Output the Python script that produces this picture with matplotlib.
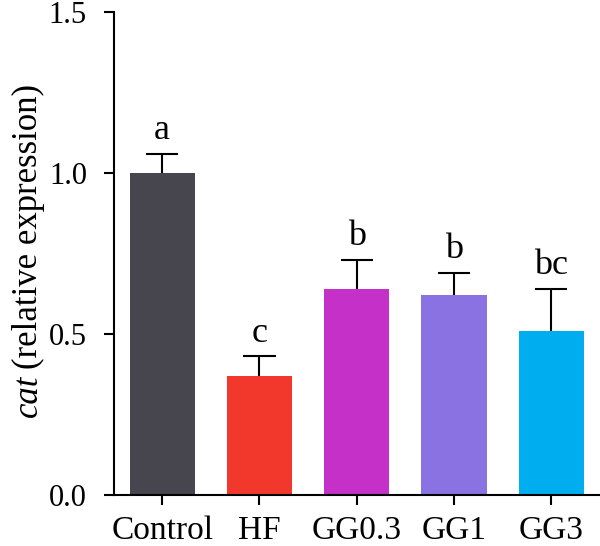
import matplotlib
matplotlib.use("Agg")
import matplotlib.pyplot as plt

groups  = ["Control", "HF", "GG0.3", "GG1", "GG3"]
values  = [1.00, 0.37, 0.64, 0.62, 0.51]
errors  = [0.06, 0.06, 0.09, 0.07, 0.13]
letters = ["a", "c", "b", "b", "bc"]
colors  = ["#47464f", "#f2382c", "#c430c8", "#8a72e2", "#00aeef"]

plt.rcParams["font.family"] = ["Liberation Serif", "DejaVu Serif"]

fig = plt.figure(figsize=(6.0, 5.46), dpi=100)
ax = fig.add_axes([0.19, 0.0934, 0.81, 0.885])

x = list(range(len(groups)))
ax.bar(x, values, width=0.67, color=colors, zorder=2)

# upper-only error bars with caps
tops = [v + e for v, e in zip(values, errors)]
ax.vlines(x, values, tops, color="black", linewidth=1.5, zorder=3)
ax.hlines(tops, [xi - 0.165 for xi in x], [xi + 0.165 for xi in x],
          color="black", linewidth=1.5, zorder=3)

for xi, tp, lab in zip(x, tops, letters):
    ax.annotate(lab, (xi, tp), xytext=(0, 5), textcoords="offset points",
                ha="center", va="bottom", fontsize=26)

ax.set_xlim(-0.495, 4.5)
ax.set_ylim(0, 1.5)
ax.set_yticks([0.0, 0.5, 1.0, 1.5])
ax.set_yticklabels(["0.0", "0.5", "1.0", "1.5"])
ax.set_xticks(x)
ax.set_xticklabels(groups)

for s in ["top", "right"]:
    ax.spines[s].set_visible(False)
for s in ["left", "bottom"]:
    ax.spines[s].set_linewidth(1.5)

ax.tick_params(axis="both", direction="out", length=7.5, width=1.5)
ax.tick_params(axis="x", labelsize=24, pad=7)
ax.tick_params(axis="y", labelsize=22, pad=12)

fig.text(0.047, 0.585, "(relative expression)", rotation=90, fontsize=25,
         ha="center", va="center")
# italic gene name, placed just below the rest of the label
t = fig.text(0.047, 0.0, "cat", rotation=90, fontsize=25, style="italic",
             ha="center", va="top")
fig.canvas.draw()
r = fig.texts[0].get_window_extent()
t.set_y((r.y0 - 6) / fig.bbox.height)

fig.savefig("out.png", dpi=100)
